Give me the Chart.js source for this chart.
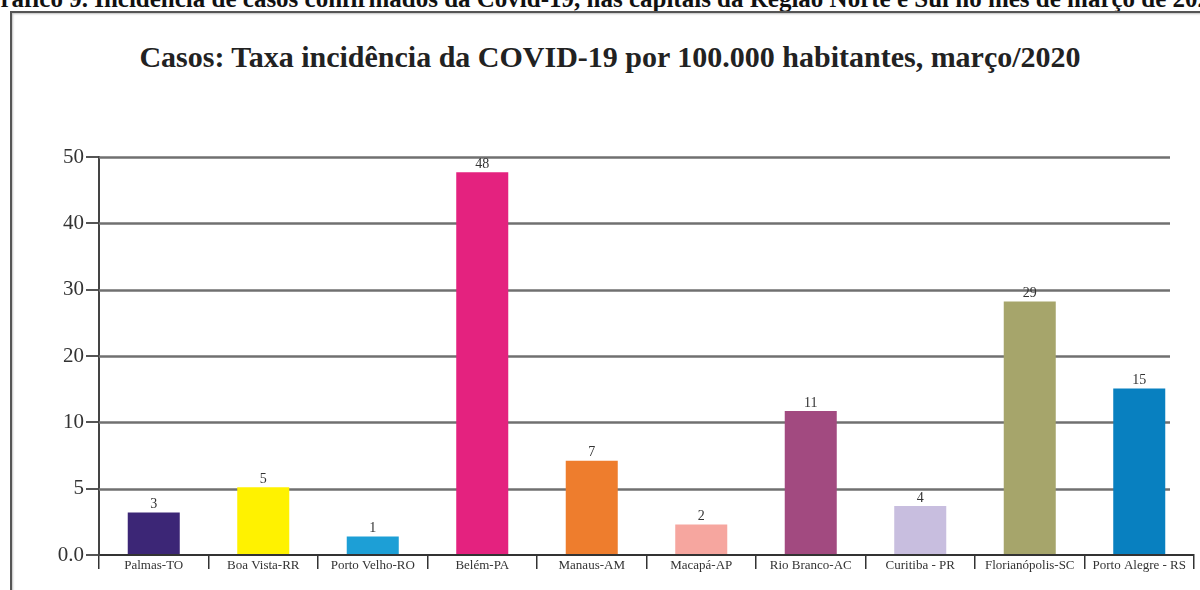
<!DOCTYPE html>
<html lang="pt-BR">
<head>
<meta charset="utf-8">
<title>Casos: Taxa incidência da COVID-19</title>
<script src="https://cdn.jsdelivr.net/npm/chart.js@4.4.1/dist/chart.umd.min.js"></script>
<style>
    html, body { margin: 0; padding: 0; background: #fff; overflow: hidden; }
    body { width: 1200px; height: 590px; position: relative; font-family: "Liberation Serif", serif; }
    #legenda {
        position: absolute; left: -19px; top: -14px; white-space: nowrap;
        font: bold 25px/25px "Liberation Serif", serif; color: #111;
    }
    #moldura {
        position: absolute; left: 10px; top: 11px; width: 1300px; height: 700px;
        border: 2px solid #555; box-shadow: inset 1px 1px 2px rgba(0,0,0,0.25);
        background: transparent;
    }
    #titulo {
        position: absolute; left: 0; top: 39px; width: 1220px; text-align: center;
        font: bold 30px/36px "Liberation Serif", serif; color: #222;
    }
    #grafico { position: absolute; left: 0; top: 0; }
</style>
</head>
<body>
<div id="legenda">Gráfico 9. Incidência de casos confirmados da Covid-19, nas capitais da Região Norte e Sul no mês de março de 2020</div>
<div id="moldura"></div>
<div id="titulo">Casos: Taxa incidência da COVID-19 por 100.000 habitantes, março/2020</div>
<canvas id="grafico" width="1200" height="590"></canvas>
<script>
// Capitais (eixo X)
const capitais = ['Palmas-TO', 'Boa Vista-RR', 'Porto Velho-RO', 'Belém-PA', 'Manaus-AM',
    'Macapá-AP', 'Rio Branco-AC', 'Curitiba - PR', 'Florianópolis-SC', 'Porto Alegre - RS'];

const taxas = [3.2, 5.1, 1.4, 47.7, 7.1, 2.3, 11.7, 3.7, 28.2, 15.1];

// Rótulos escritos acima das barras
const rotulos = ['3', '5', '1', '48', '7', '2', '11', '4', '29', '15'];

const cores = ['#3c2676', '#fff200', '#1d9fd6', '#e4227f', '#ee7d2d',
    '#f6a69f', '#a24a80', '#c8bedf', '#a6a56b', '#0880c0'];

// Eixo Y não linear: marcas igualmente espaçadas
const marcasY = [0, 5, 10, 20, 30, 40, 50];
const rotulosY = ['0.0', '5', '10', '20', '30', '40', '50'];

// converte um valor para a posição no eixo (índice da marca)
function posicaoY(v) {
    for (let i = 0; i < marcasY.length - 1; i++) {
        if (v <= marcasY[i + 1]) {
            return i + (v - marcasY[i]) / (marcasY[i + 1] - marcasY[i]);
        }
    }
    return marcasY.length - 1;
}

// linhas de grade mais curtas que o eixo X
const gradePlugin = {
    id: 'grade',
    beforeDatasetsDraw(chart) {
        const { ctx, chartArea, scales } = chart;
        ctx.save();
        ctx.strokeStyle = '#707070';
        ctx.lineWidth = 2.5;
        for (let i = 1; i < marcasY.length; i++) {
            const y = Math.round(scales.y.getPixelForValue(i)) + 0.5;
            ctx.beginPath();
            ctx.moveTo(chartArea.left, y);
            ctx.lineTo(chartArea.right - 24, y);
            ctx.stroke();
        }
        ctx.restore();
    }
};

// valores acima das barras
const rotulosPlugin = {
    id: 'rotulos',
    afterDatasetsDraw(chart) {
        const { ctx } = chart;
        const meta = chart.getDatasetMeta(0);
        ctx.save();
        ctx.font = '14px "Liberation Serif", serif';
        ctx.fillStyle = '#333';
        ctx.textAlign = 'center';
        ctx.textBaseline = 'bottom';
        meta.data.forEach((bar, i) => {
            ctx.fillText(rotulos[i], bar.x, bar.y - 1);
        });
        ctx.restore();
    }
};

new Chart(document.getElementById('grafico'), {
    type: 'bar',
    data: {
        labels: capitais,
        datasets: [{
            data: taxas.map(posicaoY),
            backgroundColor: cores,
            borderWidth: 0,
            barPercentage: 0.95,
            categoryPercentage: 0.5
        }]
    },
    options: {
        responsive: false,
        animation: false,
        layout: { padding: { top: 157, right: 6, left: 0, bottom: 0 } },
        plugins: { legend: { display: false }, tooltip: { enabled: false } },
        scales: {
            x: {
                offset: true,
                grid: { offset: true, drawOnChartArea: false, drawTicks: true, tickLength: 14, color: '#333', lineWidth: 1.5 },
                border: { color: '#333', width: 2 },
                ticks: {
                    autoSkip: false, maxRotation: 0, padding: -11,
                    color: '#333', font: { family: '"Liberation Serif", serif', size: 13 }
                },
                afterFit(scale) { scale.height = 35; }
            },
            y: {
                min: 0,
                max: marcasY.length - 1,
                grid: { drawOnChartArea: false, drawTicks: true, tickLength: 13, color: '#555', lineWidth: 2 },
                border: { color: '#444', width: 2 },
                ticks: {
                    stepSize: 1, padding: 2, color: '#333',
                    font: { family: '"Liberation Serif", serif', size: 21 },
                    callback: (v) => rotulosY[v]
                },
                afterFit(scale) { scale.width = 99; }
            }
        }
    },
    plugins: [gradePlugin, rotulosPlugin]
});
</script>
</body>
</html>
